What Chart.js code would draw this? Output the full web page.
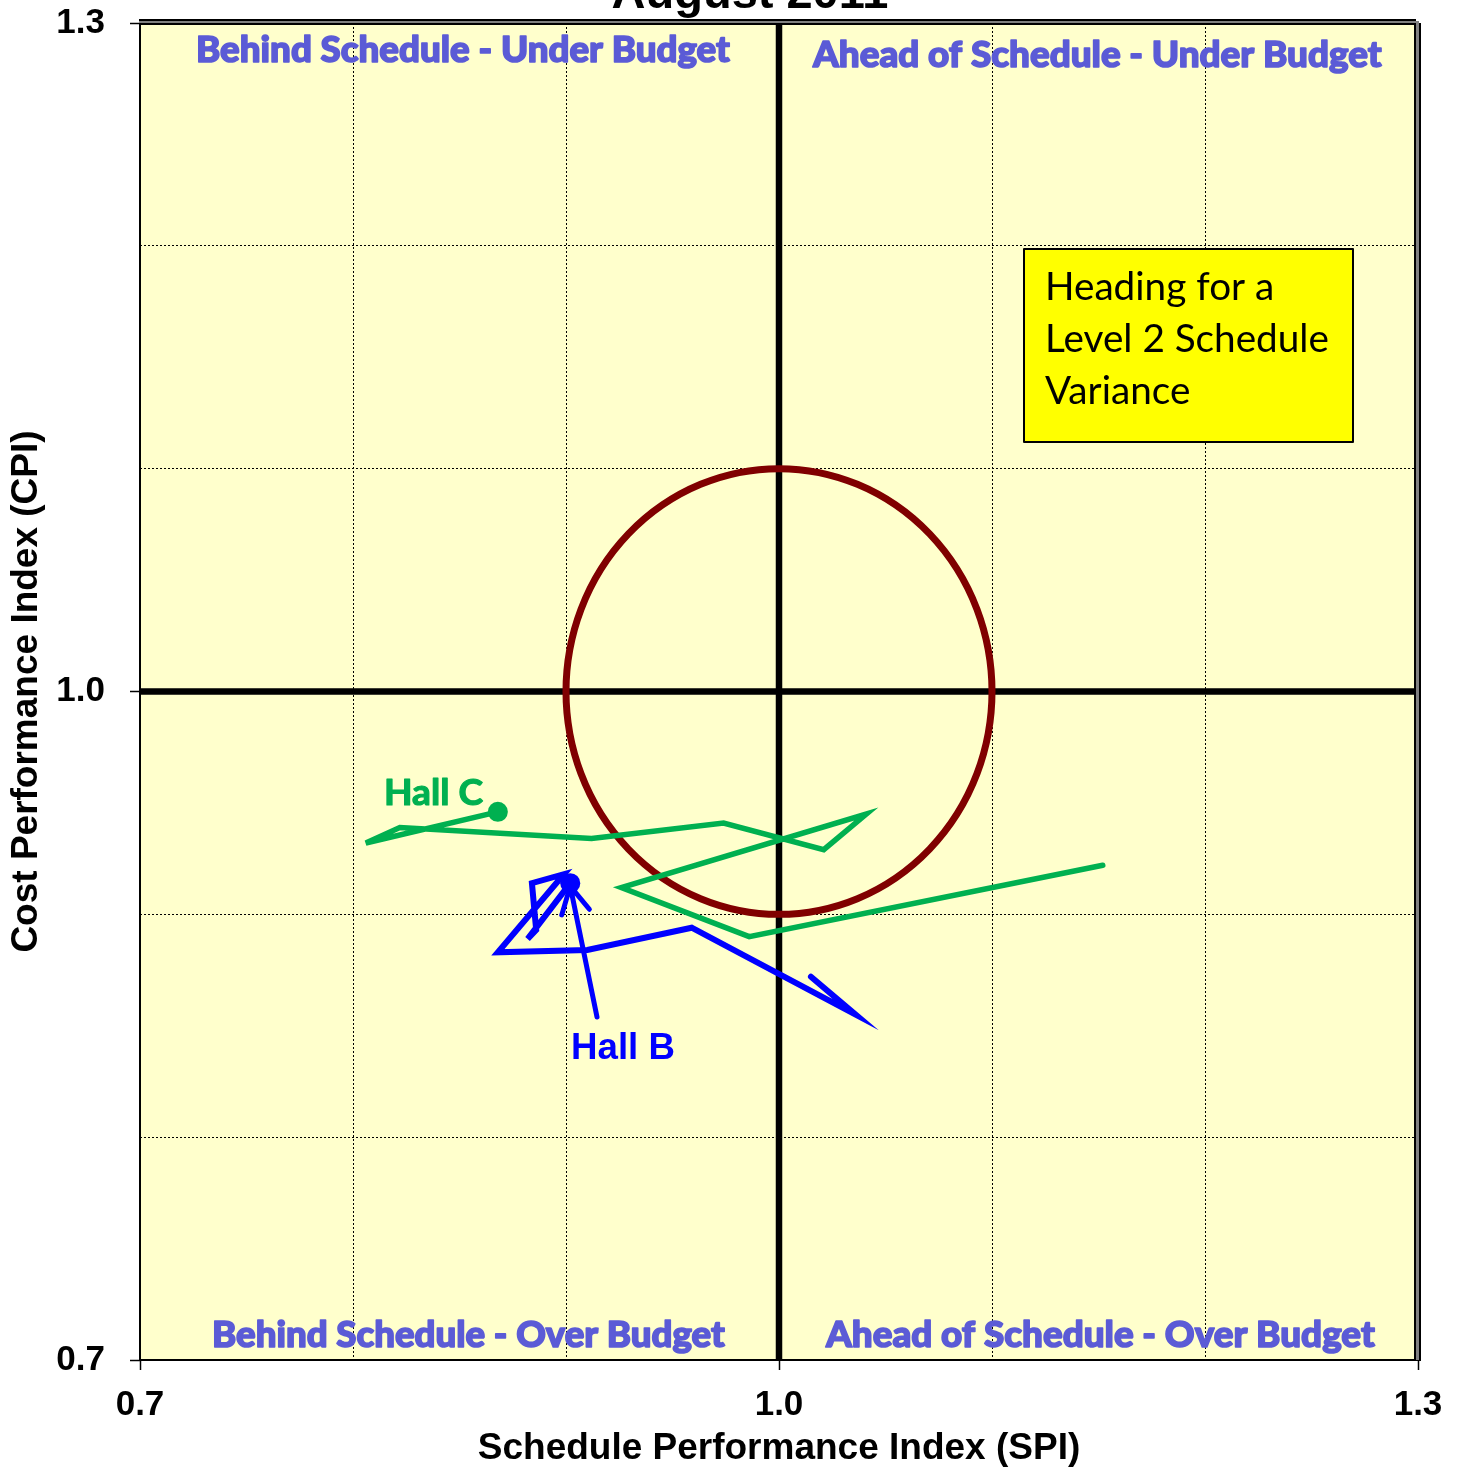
<!DOCTYPE html>
<html><head><meta charset="utf-8">
<script src="https://cdn.jsdelivr.net/npm/chart.js@4.4.1/dist/chart.umd.min.js"></script>
<style>html,body{margin:0;padding:0;background:#fff;}#wrap{width:1460px;height:1472px;position:relative;}</style>
</head><body><div id="wrap"><canvas id="c" width="1460" height="1472"></canvas></div>
<script>
const chartTitle = 'August 2011';
const xAxisTitle = 'Schedule Performance Index (SPI)';
const yAxisTitle = 'Cost Performance Index (CPI)';
const xTickLabels = ['0.7', '1.0', '1.3'];
const yTickLabels = ['0.7', '1.0', '1.3'];
const seriesNames = ['Hall C', 'Hall B'];
const hallC_SPI = [1.152, 0.986, 0.926, 1.041, 1.021, 0.974, 0.912, 0.822, 0.806, 0.868];
const hallC_CPI = [0.922, 0.890, 0.912, 0.945, 0.929, 0.941, 0.934, 0.939, 0.932, 0.946];
const hallB_SPI = [1.015, 1.036, 0.959, 0.910, 0.868, 0.899, 0.884, 0.886, 0.882, 0.902];
const hallB_CPI = [0.872, 0.855, 0.894, 0.884, 0.883, 0.918, 0.914, 0.893, 0.889, 0.914];
const targetCenter = [1.0, 1.0];
const targetRadius = 0.1;
const quadrantLabels = ['Behind Schedule - Under Budget', 'Ahead of Schedule - Under Budget', 'Behind Schedule - Over Budget', 'Ahead of Schedule - Over Budget'];
const noteLines = ['Heading for a', 'Level 2 Schedule', 'Variance'];

const FONT = "'Liberation Sans', Arial, sans-serif";
Chart.defaults.font.family = FONT;

function fitFont(ctx, text, weight, family, targetW) {
  ctx.font = weight + ' 100px ' + family;
  const w = ctx.measureText(text).width;
  const size = 100 * targetW / w;
  ctx.font = weight + ' ' + size.toFixed(2) + 'px ' + family;
  return size;
}

const isLabelled = (v, list) => list.includes(Number(v).toFixed(1));

const quadPlugin = {
  id: 'quad',
  beforeDraw(chart) {
    const {ctx, chartArea: a} = chart;
    ctx.save();
    ctx.fillStyle = '#ffffff';
    ctx.fillRect(0, 0, chart.width, chart.height);
    ctx.fillStyle = '#FFFFCC';
    ctx.fillRect(a.left, a.top, a.right - a.left, a.bottom - a.top);
    ctx.restore();
  },
  beforeDatasetsDraw(chart) {
    const {ctx, chartArea: a, scales: {x, y}} = chart;
    const cx = x.getPixelForValue(targetCenter[0]);
    const cy = y.getPixelForValue(targetCenter[1]);
    ctx.save();
    ctx.strokeStyle = '#000';
    ctx.lineWidth = 6.5;
    ctx.beginPath();
    ctx.moveTo(cx, a.top); ctx.lineTo(cx, a.bottom);
    ctx.moveTo(a.left, cy); ctx.lineTo(a.right, cy);
    ctx.stroke();
    const rx = x.getPixelForValue(targetCenter[0] + targetRadius) - cx;
    const ry = cy - y.getPixelForValue(targetCenter[1] + targetRadius);
    ctx.strokeStyle = '#800000';
    ctx.lineWidth = 7;
    ctx.beginPath();
    ctx.ellipse(cx, cy, rx, ry, 0, 0, Math.PI * 2);
    ctx.stroke();
    ctx.restore();
  },
  afterDatasetsDraw(chart) {
    const {ctx, chartArea: a, scales: {x, y}} = chart;
    ctx.save();
    // arrow from Hall B label to latest Hall B point
    const n = hallB_SPI.length - 1;
    const tx = x.getPixelForValue(hallB_SPI[n]);
    const ty = y.getPixelForValue(hallB_CPI[n]) + 3;
    const sx = 597, sy = 1017;
    ctx.strokeStyle = '#0000FF';
    ctx.lineWidth = 5;
    ctx.lineCap = 'round';
    ctx.beginPath();
    ctx.moveTo(sx, sy); ctx.lineTo(tx, ty);
    const ang = Math.atan2(sy - ty, sx - tx);
    const L = 30, w = 28 * Math.PI / 180;
    ctx.moveTo(tx + L * Math.cos(ang + w), ty + L * Math.sin(ang + w));
    ctx.lineTo(tx, ty);
    ctx.lineTo(tx + L * Math.cos(ang - w), ty + L * Math.sin(ang - w));
    ctx.stroke();

    // series labels
    ctx.textBaseline = 'alphabetic';
    ctx.textAlign = 'left';
    ctx.lineJoin = 'round';
    ctx.fillStyle = '#00B050';
    ctx.strokeStyle = '#00B050';
    ctx.lineWidth = 1.2;
    fitFont(ctx, seriesNames[0], 'bold', "Lato, 'Open Sans', sans-serif", 99);
    ctx.fillText(seriesNames[0], 384, 805);
    ctx.strokeText(seriesNames[0], 384, 805);
    ctx.fillStyle = '#0000FF';
    fitFont(ctx, seriesNames[1], 'bold', FONT, 104);
    ctx.fillText(seriesNames[1], 571, 1059);

    // quadrant labels
    ctx.fillStyle = '#5B5BD6';
    ctx.strokeStyle = '#5B5BD6';
    ctx.lineWidth = 1.6;
    const q = [
      [quadrantLabels[0], 196, 534, 62],
      [quadrantLabels[1], 813, 569, 67],
      [quadrantLabels[2], 212, 513, 1347],
      [quadrantLabels[3], 826, 549, 1347]
    ];
    q.forEach(([t, lx, w2, by]) => {
      fitFont(ctx, t, '900', "Lato, 'Open Sans', sans-serif", w2);
      ctx.fillText(t, lx, by);
      ctx.strokeText(t, lx, by);
    });

    // note box
    ctx.fillStyle = '#FFFF00';
    ctx.fillRect(1024, 249, 329, 193);
    ctx.strokeStyle = '#000';
    ctx.lineWidth = 2;
    ctx.strokeRect(1024, 249, 329, 193);
    ctx.fillStyle = '#000';
    fitFont(ctx, noteLines[1], 'normal', "Lato, 'Open Sans', sans-serif", 284);
    noteLines.forEach((t, i) => ctx.fillText(t, 1045, 300 + i * 52));

    // frame
    ctx.fillStyle = '#000';
    ctx.fillRect(a.left - 1, a.top, 2, a.bottom - a.top + 1);
    ctx.fillRect(a.left - 1, a.bottom - 1, a.right - a.left + 2, 2);
    ctx.fillRect(a.left - 1, a.top - 4, a.right - a.left - 1, 2);
    ctx.fillStyle = '#808080';
    ctx.fillRect(a.left - 1, a.top - 2, a.right - a.left + 1, 2);
    ctx.fillRect(a.right - 2, a.top - 2, 3, a.bottom - a.top + 2);
    ctx.fillStyle = '#000';
    ctx.fillRect(a.left - 1, a.top, a.right - a.left - 2, 2);
    ctx.fillRect(a.right - 4, a.top, 2, a.bottom - a.top);
    ctx.fillRect(a.right + 1, a.top, 2, a.bottom - a.top + 1);
    ctx.restore();
  },
  afterDraw(chart) {
    const {ctx} = chart;
    ctx.save();
    ctx.fillStyle = '#000';
    ctx.font = 'bold 47px ' + FONT;
    ctx.textAlign = 'center';
    ctx.textBaseline = 'alphabetic';
    ctx.fillText(chartTitle, 750, 8);
    ctx.restore();
  }
};

const gridCommon = {
  color: '#000',
  lineWidth: 1,
  drawTicks: true,
  tickLength: 10,
  tickWidth: 1.5,
  tickBorderDash: []
};

new Chart(document.getElementById('c'), {
  type: 'scatter',
  data: {
    datasets: [
      {
        label: seriesNames[0],
        data: hallC_SPI.map((v, i) => ({x: v, y: hallC_CPI[i]})),
        showLine: true,
        borderColor: '#00B050',
        backgroundColor: '#00B050',
        borderWidth: 5.5,
        tension: 0,
        borderCapStyle: 'round',
        pointRadius: c => c.dataIndex === hallC_SPI.length - 1 ? 10 : 0,
        pointBorderWidth: 0,
        pointHoverRadius: 0
      },
      {
        label: seriesNames[1],
        data: hallB_SPI.map((v, i) => ({x: v, y: hallB_CPI[i]})),
        showLine: true,
        borderColor: '#0000FF',
        backgroundColor: '#0000FF',
        borderWidth: 6,
        tension: 0,
        borderCapStyle: 'round',
        pointRadius: c => c.dataIndex === hallB_SPI.length - 1 ? 10 : 0,
        pointBorderWidth: 0,
        pointHoverRadius: 0
      }
    ]
  },
  options: {
    responsive: false,
    animation: false,
    devicePixelRatio: 1,
    layout: {padding: {left: 0, right: 42, top: 23, bottom: 0}},
    plugins: {legend: {display: false}, tooltip: {enabled: false}, title: {display: false}},
    scales: {
      x: {
        type: 'linear', min: 0.7, max: 1.3,
        afterFit(s) { s.height = 112; s.paddingLeft = 0; s.paddingRight = 0; },
        ticks: {
          stepSize: 0.1, autoSkip: false, maxRotation: 0, padding: 14,
          color: '#000', font: {size: 35, weight: 'bold'},
          callback: v => isLabelled(v, xTickLabels) ? Number(v).toFixed(1) : ''
        },
        grid: Object.assign({}, gridCommon, {
          tickColor: c => isLabelled(c.tick.value, xTickLabels) ? '#000' : 'rgba(0,0,0,0)'
        }),
        border: {display: false, dash: [2, 2]},
        title: {display: true, text: xAxisTitle, color: '#000', font: {size: 37, weight: 'bold'}, padding: {top: 0, bottom: 1}}
      },
      y: {
        type: 'linear', min: 0.7, max: 1.3,
        afterFit(s) { s.width = 140; s.paddingTop = 0; s.paddingBottom = 0; },
        ticks: {
          stepSize: 0.1, autoSkip: false, padding: 25,
          color: '#000', font: {size: 35, weight: 'bold'},
          callback: v => isLabelled(v, yTickLabels) ? Number(v).toFixed(1) : ''
        },
        grid: Object.assign({}, gridCommon, {
          tickColor: c => isLabelled(c.tick.value, yTickLabels) ? '#000' : 'rgba(0,0,0,0)'
        }),
        border: {display: false, dash: [2, 2]},
        title: {display: true, text: yAxisTitle, color: '#000', font: {size: 37, weight: 'bold'}, padding: {top: 5, bottom: 0}}
      }
    }
  },
  plugins: [quadPlugin]
});
</script></body></html>
